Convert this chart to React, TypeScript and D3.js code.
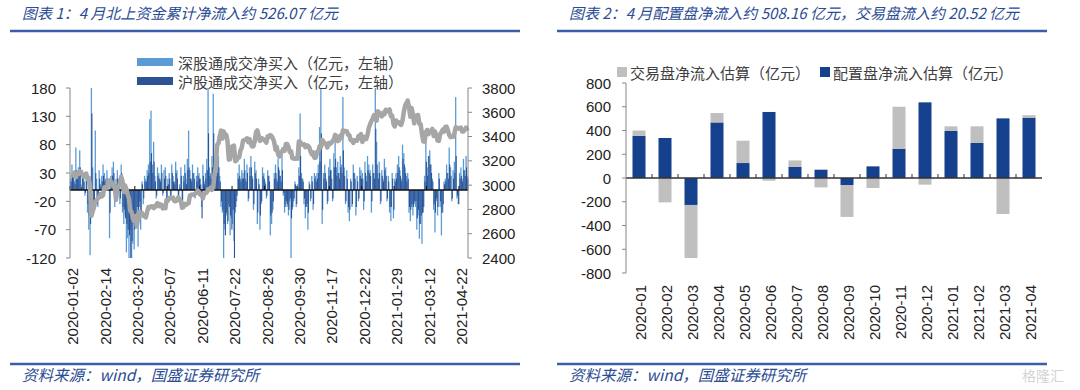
import React, { useEffect, useRef } from "react";
import * as d3 from "d3";

// ---- left chart: daily northbound net buy (亿元) + SSE composite (right axis)
// trading days 2020-01-02 .. 2021-04-30, one value per day (307 days)

// 深股通成交净买入
const szFlow = [
  // 2020-01
  20, 45, 30, 15, 75, 25, 40, 70, 10, 35, 25, -10, 30, -40, -70, -115,
  // 2020-02
  180, 40, -25, 105, 20, -30, 35, 10, 25, 45, 30, 20, 35, 15, -85, 25, 40, 50, -30, 20,
  // 2020-03
  35, 20, -25, 45, -40, -60, -45, -110, -85, -120, -70, -120, -95, -105, -60, -40, -100, -30, -70, 15, -25, 25,
  // 2020-04
  20, 35, 45, 125, 140, 45, 85, 25, -15, 40, 30, 20, 45, -10, 35, 40,
  // 2020-05
  -35, 20, 30, -15, 45, 25, 15, 50, 35, -20, 10, 40, -30, 25, 45, 20, 55, 105,
  // 2020-06
  35, 20, 45, 30, -15, 25, 40, 30, 20, -30, 45, 15, 30, 55, 180, 40, 30, 60, 170,
  // 2020-07
  55, 40, 45, 60, 25, -30, -40, -120, -70, -45, -60, -25, -80, -50, -60, -90, -40, -20, 30, 45, 20, 35,
  // 2020-08
  30, 55, 20, 45, -20, 40, 60, 25, -35, 50, 35, -60, 20, -70, -25, 40, 30, 15, -15, 35, 25,
  // 2020-09
  -80, -60, -35, 30, 45, 20, 55, 35, 25, 75, -10, -40, -25, -30, -45, -20, -120, -35, -20, 15, -30, 10,
  // 2020-10
  40, 135, 30, 20, -25, -50, -30, -70, 15, -20, 25, -35, 30,
  // 2020-11
  25, 30, 45, 111, 185, -60, 30, 45, 20, -25, 40, 55, 35, -20, 65, 88, 40, 50, 30, 60, 45,
  // 2020-12
  164, 40, -25, 35, -40, -55, 20, -30, 45, 30, -45, 25, -20, 40, 35, 30, -35, 50, 25, 60, 45,
  // 2021-01
  35, -40, 45, 30, 190, 85, 30, 50, -25, 35, 20, 55, 40, -20, 25, -40, -55, 30, -50, 20,
  // 2021-02
  30, 45, 60, 35, 20, 80, 65, 40, 25, 30, -40, -55, -30, -45, -25,
  // 2021-03
  -30, -70, -45, -86, -60, -95, -40, 25, 85, 40, 60, 70, 45, 20, -35, -75, -20, -45, 30, -30, -80, -40, 15,
  // 2021-04
  20, 45, 30, 75, 40, -20, 35, 50, 164, -15, -25, 30, 40, 20, 55, 35, 60, 25,
];

// 沪股通成交净买入
const shFlow = [
  15, 30, 20, 10, 35, 20, 25, 40, 5, 20, 15, -5, 15, -25, -45, -60,
  135, -20, -35, 30, -25, -15, 20, 5, 15, 25, 15, 10, 20, 8, -40, 15, 25, 30, -20, 10,
  20, 15, -15, 30, -30, -35, -50, -60, -70, -80, -120, -90, -60, -70, -45, -30, -55, -20, -40, 10, -15, 15,
  15, 25, 30, 50, 65, 30, 50, 15, -10, 25, 20, 15, 30, -5, 20, 25,
  -20, 10, 20, -10, 30, 15, 10, 30, 20, -15, 5, 25, -25, 15, 30, 10, 35, 40,
  20, 15, 30, 20, -10, 15, 25, 20, 10, -50, 25, 10, 20, 35, 100, 25, 20, 40, 100,
  35, 25, 30, 40, 15, -20, -35, -60, -80, -40, -55, -30, -45, -70, -35, -120, -30, -10, 20, 25, 15, 20,
  20, 35, 15, 30, -15, 25, 40, 20, -25, 30, 20, -40, 10, -45, -20, 25, 20, 10, -10, 25, 15,
  -45, -40, -20, 20, 30, 15, 40, 25, 15, 35, -5, -30, -20, -25, -35, -15, -50, -30, -15, 10, -25, 5,
  25, 60, 20, 15, -15, -30, -25, -40, 10, -15, 15, -25, 20,
  15, 20, 30, 50, 100, -35, 20, 30, 15, -20, 25, 35, 20, -15, 40, 55, 25, 30, 20, 40, 30,
  70, 25, -20, 20, -30, -35, 15, -25, 30, 20, -30, 15, -15, 25, 20, 20, -20, 30, 15, 35, 30,
  25, -20, 30, 20, 108, 45, 20, 30, -20, 25, 15, 35, 25, -15, 15, -30, -30, 20, -35, 15,
  20, 30, 40, 25, 15, 55, 45, 30, 15, 20, -30, -35, -25, -30, -20,
  -20, -50, -35, -60, -45, -40, -30, 15, 50, 25, 60, 45, 30, 15, -25, -40, -15, -30, 20, -20, -40, -25, 10,
  15, 30, 20, 45, 25, -15, 20, 30, 60, -10, -25, 20, 25, 15, 35, 25, 40, 20,
];

// 上证综指 close
const shIndex = [
  3085, 3083, 3083, 3104, 3066, 3095, 3092, 3115, 3106, 3090, 3074, 3075, 3095, 3052, 3060, 2976,
  2746, 2783, 2818, 2866, 2876, 2890, 2901, 2926, 2906, 2917, 2983, 2984, 2975, 3030, 3039, 3031, 3013, 2988, 2992, 2880,
  2970, 2992, 3011, 3071, 3034, 2943, 2997, 2968, 2923, 2887, 2789, 2779, 2728, 2702, 2745, 2660, 2722, 2781, 2764, 2772, 2747, 2750,
  2734, 2780, 2820, 2815, 2825, 2827, 2811, 2819, 2838, 2852, 2827, 2843, 2838, 2809, 2815, 2810,
  2878, 2872, 2895, 2894, 2891, 2898, 2870, 2868, 2875, 2899, 2884, 2867, 2814, 2818, 2846, 2837, 2847, 2852,
  2915, 2921, 2923, 2919, 2930, 2937, 2956, 2943, 2921, 2919, 2891, 2931, 2935, 2939, 2967, 2965, 2979, 2961, 2985,
  3091, 3152, 3332, 3345, 3403, 3450, 3383, 3443, 3414, 3415, 3361, 3210, 3214, 3314, 3321, 3325, 3196, 3205, 3227, 3228, 3286, 3310,
  3367, 3371, 3377, 3386, 3354, 3379, 3340, 3319, 3320, 3360, 3438, 3451, 3408, 3363, 3386, 3385, 3373, 3364, 3350, 3403, 3396,
  3412, 3404, 3384, 3355, 3292, 3316, 3255, 3235, 3260, 3278, 3295, 3283, 3339, 3338, 3316, 3274, 3279, 3223, 3219, 3217, 3224, 3218,
  3359, 3358, 3340, 3332, 3336, 3313, 3328, 3325, 3312, 3278, 3254, 3270, 3225,
  3225, 3272, 3277, 3320, 3312, 3373, 3360, 3342, 3338, 3310, 3347, 3339, 3347, 3363, 3377, 3414, 3402, 3362, 3369, 3408, 3392,
  3451, 3449, 3443, 3444, 3416, 3411, 3371, 3373, 3347, 3369, 3367, 3366, 3404, 3394, 3420, 3356, 3383, 3397, 3379, 3414, 3473,
  3502, 3528, 3550, 3576, 3570, 3531, 3608, 3598, 3584, 3566, 3596, 3583, 3621, 3606, 3607, 3624, 3569, 3573, 3506, 3483,
  3533, 3518, 3517, 3501, 3496, 3533, 3604, 3655, 3675, 3696, 3642, 3564, 3636, 3585, 3509,
  3551, 3576, 3577, 3503, 3502, 3421, 3360, 3357, 3437, 3454, 3420, 3446, 3445, 3463, 3405, 3443, 3411, 3367, 3364, 3418, 3435, 3457, 3441,
  3479, 3482, 3451, 3412, 3396, 3403, 3398, 3426, 3477, 3472, 3466, 3465, 3474, 3441, 3442, 3457, 3474, 3447,
];

// every 25th trading day gets a label
const dayLabels = [
  "2020-01-02", "2020-02-14", "2020-03-20", "2020-05-07", "2020-06-11", "2020-07-22", "2020-08-26",
  "2020-09-30", "2020-11-17", "2020-12-22", "2021-01-29", "2021-03-12", "2021-04-22",
];
const flowTicks = [180, 130, 80, 30, -20, -70, -120];
const indexTicks = [3800, 3600, 3400, 3200, 3000, 2800, 2600, 2400];

// ---- right chart: monthly allocation / trading flows (亿元)
const months = [
  "2020-01", "2020-02", "2020-03", "2020-04", "2020-05", "2020-06", "2020-07", "2020-08",
  "2020-09", "2020-10", "2020-11", "2020-12", "2021-01", "2021-02", "2021-03", "2021-04",
];
const allocFlow = [355, 337, -227, 468, 126, 556, 93, 70, -59, 98, 247, 637, 396, 295, 502, 508.16];
const tradeFlow = [45, -205, -447, 79, 188, -23, 55, -79, -269, -84, 353, -56, 39, 140, -303, 20.52];
const monthTicks = [800, 600, 400, 200, 0, -200, -400, -600, -800];

const CJK = "'Noto Sans CJK SC', sans-serif";
const NUM = "'Liberation Sans', Arial, sans-serif";
const LIGHT = "#5B9BD5";
const DARK = "#2E5395";
const NAVY = "#14408E";
const GREY = "#BFBFBF";
const TITLE = "#2B4C94";

const App = () => {
  const ref = useRef(null);

  useEffect(() => {
    const svg = d3.select(ref.current);
    svg.selectAll("*").remove();
    svg.append("rect").attr("width", 1080).attr("height", 390).attr("fill", "#fff");

    // titles, rules, sources
    const heads = [
      { x: 22, rx: [10, 520], t: "图表 1：4 月北上资金累计净流入约 526.07 亿元" },
      { x: 569, rx: [557, 1047], t: "图表 2：4 月配置盘净流入约 508.16 亿元，交易盘流入约 20.52 亿元" },
    ];
    heads.forEach((h) => {
      svg.append("text").attr("x", h.x).attr("y", 19).text(h.t)
        .style("font-family", CJK).style("font-size", "15px").style("font-style", "italic")
        .attr("fill", TITLE);
      svg.append("line").attr("x1", h.rx[0]).attr("x2", h.rx[1]).attr("y1", 31).attr("y2", 31)
        .attr("stroke", "#3A5FA6").attr("stroke-width", 2.5);
      svg.append("line").attr("x1", h.rx[0]).attr("x2", h.rx[1]).attr("y1", 364).attr("y2", 364)
        .attr("stroke", "#3A5FA6").attr("stroke-width", 2.5);
      svg.append("text").attr("x", h.x).attr("y", 381).text("资料来源：wind，国盛证券研究所")
        .style("font-family", CJK).style("font-size", "15.5px").style("font-style", "italic")
        .attr("fill", TITLE);
    });
    svg.append("text").attr("x", 1022).attr("y", 381).text("格隆汇")
      .style("font-family", CJK).style("font-size", "14px").attr("fill", "#d4d4d4");

    // ================= left chart =================
    const n = szFlow.length;
    const x = d3.scaleBand().domain(d3.range(n)).range([70, 468]).padding(0);
    const bw = x.bandwidth();
    const yL = d3.scaleLinear().domain([-120, 180]).range([258, 88]).clamp(true);
    const yR = d3.scaleLinear().domain([2400, 3800]).range([258, 88]);

    const left = svg.append("g");
    [
      { data: szFlow, color: LIGHT, dx: 0, w: bw },
      { data: shFlow, color: DARK, dx: bw * 0.45, w: bw * 0.85 },
    ].forEach((s) => {
      left.append("g").selectAll("rect").data(s.data).enter().append("rect")
        .attr("x", (d, i) => x(i) + s.dx)
        .attr("width", s.w)
        .attr("y", (d) => yL(Math.max(0, d)))
        .attr("height", (d) => Math.abs(yL(d) - yL(0)))
        .attr("fill", s.color);
    });

    // zero line + ticks every 25 days
    left.append("line").attr("x1", 70).attr("x2", 468).attr("y1", yL(0)).attr("y2", yL(0))
      .attr("stroke", "#111").attr("stroke-width", 1.4);
    d3.range(0, n, 25).forEach((i) => {
      left.append("line").attr("x1", x(i)).attr("x2", x(i))
        .attr("y1", yL(0) - 4).attr("y2", yL(0)).attr("stroke", "#111");
    });

    // index line
    const line = d3.line()
      .x((d, i) => x(i) + bw / 2)
      .y((d) => yR(d));
    left.append("path").datum(shIndex).attr("d", line).attr("fill", "none")
      .attr("stroke", "#A6A6A6").attr("stroke-width", 4.5).attr("stroke-linejoin", "round");

    // axes
    left.append("line").attr("x1", 70).attr("x2", 70).attr("y1", 88).attr("y2", 258).attr("stroke", "#868686");
    left.append("line").attr("x1", 468).attr("x2", 468).attr("y1", 88).attr("y2", 258).attr("stroke", "#868686");
    flowTicks.forEach((v) => {
      left.append("line").attr("x1", 66).attr("x2", 70).attr("y1", yL(v)).attr("y2", yL(v)).attr("stroke", "#868686");
      left.append("text").attr("x", 56).attr("y", yL(v)).text(v)
        .attr("text-anchor", "end").attr("dominant-baseline", "central")
        .style("font-family", NUM).style("font-size", "15px").attr("fill", "#222");
    });
    indexTicks.forEach((v) => {
      left.append("line").attr("x1", 468).attr("x2", 472).attr("y1", yR(v)).attr("y2", yR(v)).attr("stroke", "#868686");
      left.append("text").attr("x", 482).attr("y", yR(v)).text(v)
        .attr("dominant-baseline", "central")
        .style("font-family", NUM).style("font-size", "15px").attr("fill", "#222");
    });
    dayLabels.forEach((lab, k) => {
      const cx = x(k * 25) + bw / 2 + 2;
      left.append("text").attr("transform", `translate(${cx},268) rotate(-90)`).text(lab)
        .attr("text-anchor", "end").attr("dominant-baseline", "central")
        .style("font-family", NUM).style("font-size", "15px").attr("fill", "#222");
    });

    // legend
    [
      { t: "深股通成交净买入（亿元，左轴）", c: LIGHT, y: 62 },
      { t: "沪股通成交净买入（亿元，左轴）", c: DARK, y: 81 },
    ].forEach((l) => {
      left.append("rect").attr("x", 137).attr("y", l.y - 4).attr("width", 36).attr("height", 8).attr("fill", l.c);
      left.append("text").attr("x", 178).attr("y", l.y).text(l.t)
        .attr("dominant-baseline", "central")
        .style("font-family", CJK).style("font-size", "15px").attr("fill", "#404040");
    });

    // ================= right chart =================
    const xm = d3.scaleBand().domain(months).range([626, 1042]).paddingInner(0.5).paddingOuter(0.25);
    const ym = d3.scaleLinear().domain([-800, 800]).range([273, 83]);
    const rows = months.map((m, i) => ({ month: m, alloc: allocFlow[i], trade: tradeFlow[i] }));
    const series = d3.stack().keys(["alloc", "trade"]).offset(d3.stackOffsetDiverging)(rows);
    const colors = { alloc: NAVY, trade: GREY };

    const right = svg.append("g");
    series.forEach((s) => {
      right.append("g").selectAll("rect").data(s).enter().append("rect")
        .attr("x", (d) => xm(d.data.month))
        .attr("width", xm.bandwidth())
        .attr("y", (d) => ym(d[1]))
        .attr("height", (d) => ym(d[0]) - ym(d[1]))
        .attr("fill", colors[s.key]);
    });

    right.append("line").attr("x1", 626).attr("x2", 1042).attr("y1", ym(0)).attr("y2", ym(0))
      .attr("stroke", "#333").attr("stroke-width", 1.3);
    d3.range(1, months.length).forEach((k) => {
      const tx = 626 + xm.step() * k;
      right.append("line").attr("x1", tx).attr("x2", tx).attr("y1", ym(0) - 4).attr("y2", ym(0)).attr("stroke", "#333");
    });
    right.append("line").attr("x1", 626).attr("x2", 626).attr("y1", 83).attr("y2", 273).attr("stroke", "#868686");
    monthTicks.forEach((v) => {
      right.append("line").attr("x1", 622).attr("x2", 626).attr("y1", ym(v)).attr("y2", ym(v)).attr("stroke", "#868686");
      right.append("text").attr("x", 611).attr("y", ym(v)).text(v)
        .attr("text-anchor", "end").attr("dominant-baseline", "central")
        .style("font-family", NUM).style("font-size", "15px").attr("fill", "#222");
    });
    months.forEach((m) => {
      const cx = xm(m) + xm.bandwidth() / 2 + 1;
      right.append("text").attr("transform", `translate(${cx},285) rotate(-90)`).text(m)
        .attr("text-anchor", "end").attr("dominant-baseline", "central")
        .style("font-family", NUM).style("font-size", "15px").attr("fill", "#222");
    });

    [
      { t: "交易盘净流入估算（亿元）", c: GREY, x: 617 },
      { t: "配置盘净流入估算（亿元）", c: NAVY, x: 820 },
    ].forEach((l) => {
      right.append("rect").attr("x", l.x).attr("y", 67).attr("width", 10).attr("height", 10).attr("fill", l.c);
      right.append("text").attr("x", l.x + 13).attr("y", 72).text(l.t)
        .attr("dominant-baseline", "central")
        .style("font-family", CJK).style("font-size", "15px").attr("fill", "#404040");
    });
  }, []);

  return (
    <svg
      ref={ref}
      width={1080}
      height={390}
      style={{ position: "absolute", left: 0, top: 0 }}
    />
  );
};

export default App;
